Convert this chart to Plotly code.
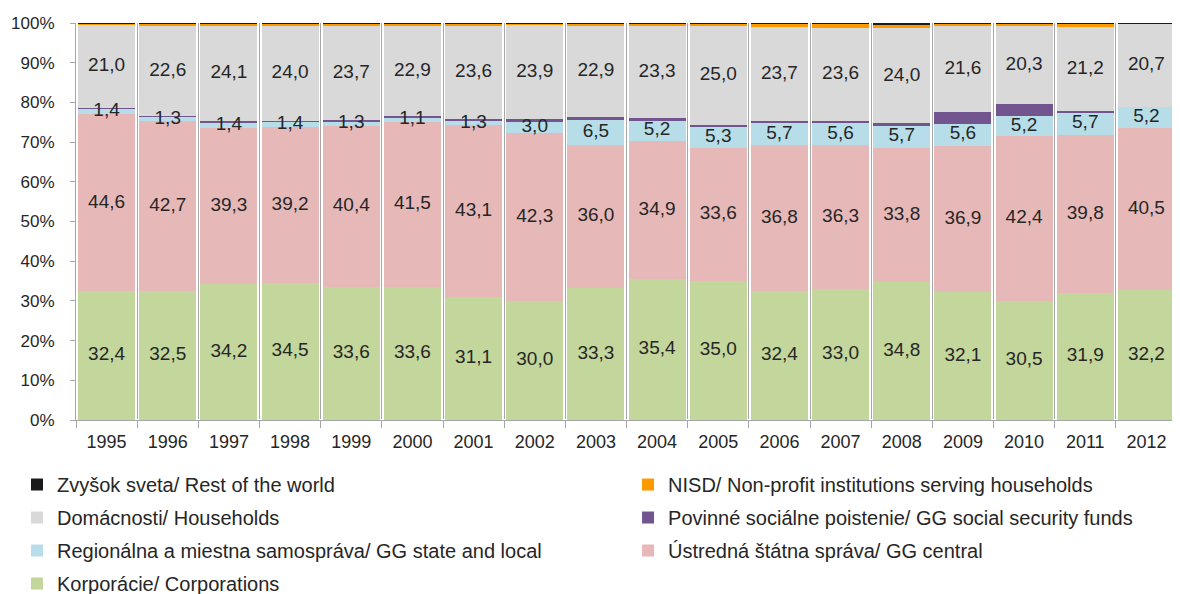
import plotly.graph_objects as go

years = [str(y) for y in range(1995, 2013)]

corporations = [32.4, 32.5, 34.2, 34.5, 33.6, 33.6, 31.1, 30.0, 33.3, 35.4, 35.0, 32.4, 33.0, 34.8, 32.1, 30.5, 31.9, 32.2]
gg_central = [44.6, 42.7, 39.3, 39.2, 40.4, 41.5, 43.1, 42.3, 36.0, 34.9, 33.6, 36.8, 36.3, 33.8, 36.9, 42.4, 39.8, 40.5]
gg_state_local = [1.4, 1.3, 1.4, 1.4, 1.3, 1.1, 1.3, 3.0, 6.5, 5.2, 5.3, 5.7, 5.6, 5.7, 5.6, 5.2, 5.7, 5.2]
gg_social_security = [0.2, 0.1, 0.4, 0.3, 0.3, 0.3, 0.3, 0.4, 0.5, 0.5, 0.4, 0.3, 0.3, 0.4, 2.9, 2.9, 0.3, 0.0]
households = [21.0, 22.6, 24.1, 24.0, 23.7, 22.9, 23.6, 23.9, 22.9, 23.3, 25.0, 23.7, 23.6, 24.0, 21.6, 20.3, 21.2, 20.7]
nisd = [0.3, 0.6, 0.5, 0.5, 0.6, 0.5, 0.5, 0.3, 0.6, 0.6, 0.6, 0.9, 1.0, 0.8, 0.7, 0.5, 0.9, 0.0]
rest_of_world = [0.1, 0.2, 0.1, 0.1, 0.1, 0.1, 0.1, 0.1, 0.2, 0.1, 0.1, 0.2, 0.2, 0.5, 0.1, 0.1, 0.1, 0.1]

# (name, values, colour, labelled, legend column, legend rank)
series = [
    ("Korporácie/ Corporations", corporations, "#c3d69b", True, "legend", 4),
    ("Ústredná štátna správa/ GG central", gg_central, "#e6b9b8", True, "legend2", 3),
    ("Regionálna a miestna samospráva/ GG state and local", gg_state_local, "#b7dee8", True, "legend", 3),
    ("Povinné sociálne poistenie/ GG social security funds", gg_social_security, "#72558f", False, "legend2", 2),
    ("Domácnosti/ Households", households, "#d9d9d9", True, "legend", 2),
    ("NISD/ Non-profit institutions serving households", nisd, "#ff9900", False, "legend2", 1),
    ("Zvyšok sveta/ Rest of the world", rest_of_world, "#1a1a1a", False, "legend", 1),
]

FONT = "Liberation Sans, Arial, sans-serif"
TXT = "#262626"

totals = [sum(s[1][i] for s in series) for i in range(len(years))]

fig = go.Figure()
for name, vals, color, labelled, leg, rank in series:
    fig.add_trace(go.Bar(
        x=years, y=vals, name=name,
        marker=dict(color=color, line=dict(width=0)),
        legend=leg, legendgroup=name, legendrank=rank,
        hoverinfo="x+y+name",
    ))

# data labels (drawn above all bars), centred in each normalised segment
lx, ly, lt = [], [], []
base = [0.0] * len(years)
for name, vals, color, labelled, leg, rank in series:
    for i, v in enumerate(vals):
        pct = v / totals[i] * 100
        if labelled:
            lx.append(years[i])
            ly.append(base[i] + pct / 2)
            lt.append(f"{v:.1f}".replace(".", ","))
        base[i] += pct
fig.add_trace(go.Scatter(
    x=lx, y=ly, text=lt, mode="text", showlegend=False, hoverinfo="skip",
    textfont=dict(family=FONT, size=19, color=TXT), cliponaxis=False,
))

legend_common = dict(
    orientation="v",
    traceorder="grouped",
    tracegroupgap=4,
    xref="paper", yref="paper",
    yanchor="top", xanchor="left",
    font=dict(family=FONT, size=20, color=TXT),
    itemclick=False, bgcolor="rgba(0,0,0,0)",
)

# the page body adds an 8px offset, so the figure is 8px smaller on each axis
fig.update_layout(
    barmode="stack",
    barnorm="percent",
    bargap=0.07,
    width=1172, height=586,
    margin=dict(l=68, r=3, t=15, b=174, autoexpand=False),
    paper_bgcolor="white",
    plot_bgcolor="white",
    font=dict(family=FONT, size=17, color=TXT),
    showlegend=True,
    legend=dict(x=-0.0536, y=-0.1134, **legend_common),
    legend2=dict(x=0.5014, y=-0.1134, **legend_common),
)

fig.update_xaxes(
    type="category",
    range=[-0.5, len(years) - 0.5],
    tickson="boundaries",
    ticks="outside", ticklen=7, tickcolor="#a6a6a6",
    ticklabelstandoff=5,
    showgrid=True, gridcolor="#a6a6a6", gridwidth=1,
    showline=True, linecolor="#a6a6a6",
    tickfont=dict(family=FONT, size=18, color=TXT),
)
fig.update_yaxes(
    range=[0, 100], dtick=10, ticksuffix="%",
    ticks="outside", ticklen=5, tickcolor="#a6a6a6",
    ticklabelstandoff=12,
    showgrid=False,
    showline=True, linecolor="#a6a6a6",
    tickfont=dict(family=FONT, size=17, color=TXT),
)

fig.write_html("out.html")
